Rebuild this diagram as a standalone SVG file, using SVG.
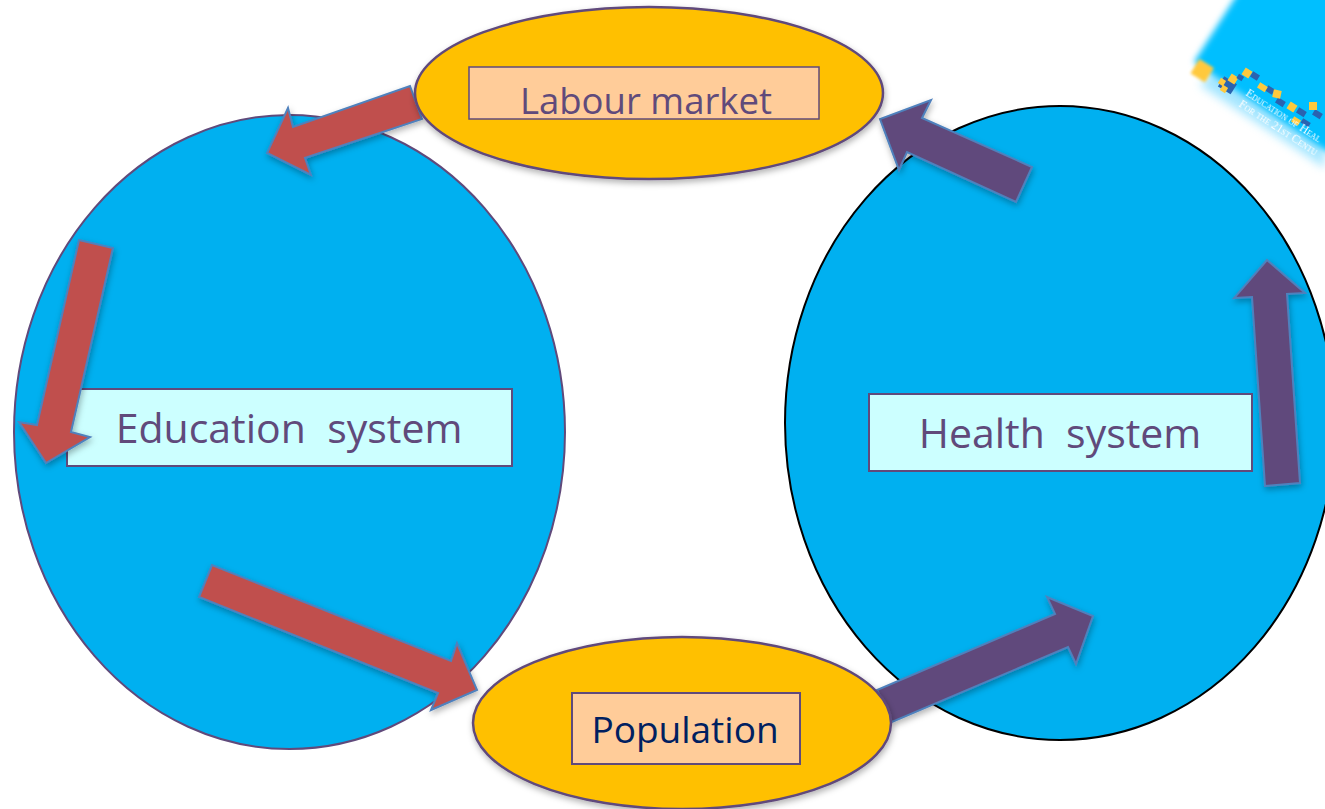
<svg xmlns="http://www.w3.org/2000/svg" width="1325" height="809" viewBox="0 0 1325 809">
<defs>
<filter id="sh" x="-20%" y="-20%" width="140%" height="140%"><feDropShadow dx="1" dy="3" stdDeviation="3" flood-color="#000" flood-opacity="0.3"/></filter>
<filter id="soft" x="-20%" y="-20%" width="140%" height="140%"><feGaussianBlur stdDeviation="3"/></filter>
<filter id="softer" x="-20%" y="-20%" width="140%" height="140%"><feGaussianBlur stdDeviation="5"/></filter>
<filter id="b1" x="-30%" y="-30%" width="160%" height="160%"><feGaussianBlur stdDeviation="0.6"/></filter>
<filter id="b2" x="-30%" y="-30%" width="160%" height="160%"><feGaussianBlur stdDeviation="1.5"/></filter>
</defs>
<style>
.sys{fill:#00b0f0;stroke:#604a7b;stroke-width:2}
.oval{fill:#ffc000;stroke:#604a7b;stroke-width:2.5;filter:url(#sh)}
.box{stroke:#604a7b;stroke-width:2}
.red{fill:#c0504d;stroke:#4f81bd;stroke-width:2;stroke-linejoin:miter;filter:url(#sh)}
.pur{fill:#604a7b;stroke:#4f81bd;stroke-width:2;stroke-linejoin:miter;filter:url(#sh)}
text{font-family:"Open Sans","Noto Sans","Liberation Sans",sans-serif;text-anchor:middle;white-space:pre}
.lbl{fill:#604a7b;font-size:41px}
.d1{fill:#ffc93c}.d2{fill:#2a63b0}
.tiny{font-family:"Liberation Serif",serif;font-size:11.500px;font-variant:small-caps;fill:#fff;text-anchor:start;filter:url(#b1)}
</style>
<g id="logo">
<polygon points="1200,85 1240,40 1325,40 1325,168" fill="#7fdcff" opacity="0.7" filter="url(#softer)"/>
<polygon points="1194,62 1240,-10 1340,-10 1340,160" fill="#00bfff" filter="url(#soft)"/>
<rect x="1194" y="62" width="17" height="17" class="d1" transform="rotate(32 1202 70)" filter="url(#b2)"/>
<g filter="url(#b1)">
<rect x="1220" y="79" width="15" height="12" class="d2" transform="rotate(32 1227 85)"/>
<rect x="1229" y="75" width="8" height="8" class="d1" transform="rotate(32 1233 79)"/>
<rect x="1219" y="79" width="6" height="6" class="d1" transform="rotate(32 1222 82)"/>
<rect x="1221" y="86" width="6" height="6" class="d1" transform="rotate(32 1224 89)"/>
<rect x="1237" y="75" width="6" height="5" class="d2" transform="rotate(32 1240 78)"/>
<rect x="1251" y="73" width="8" height="6" class="d2" transform="rotate(32 1255 76)"/>
<rect x="1243" y="69" width="8" height="8" class="d1" transform="rotate(32 1247 73)"/>
<rect x="1266" y="87" width="8" height="6" class="d2" transform="rotate(32 1270 90)"/>
<rect x="1258" y="84" width="9" height="6" class="d1" transform="rotate(32 1262 87)"/>
<rect x="1276" y="99" width="9" height="6" class="d2" transform="rotate(32 1280 102)"/>
<rect x="1273" y="90" width="8" height="8" class="d1" transform="rotate(12 1277 94)"/>
<rect x="1297" y="109" width="9" height="6" class="d2" transform="rotate(32 1301 112)"/>
<rect x="1288" y="103" width="8" height="8" class="d1" transform="rotate(32 1292 107)"/>
<rect x="1313" y="111" width="9" height="6" class="d2" transform="rotate(32 1317 114)"/>
<rect x="1309" y="102" width="8" height="8" class="d1"/>
<rect x="1301" y="120" width="9" height="5" class="d2" transform="rotate(32 1305 123)"/>
<rect x="1292" y="118" width="8" height="6" class="d1" transform="rotate(32 1296 121)"/>
</g>
<text class="tiny" transform="translate(1245 95) rotate(33)">Education of Heal</text>
<text class="tiny" transform="translate(1238 106) rotate(33)">For the 21st Centu</text>
</g>
<g id="education-system">
<ellipse class="sys" cx="289.500" cy="432" rx="275.500" ry="317"/>
<rect class="box" x="67" y="389" width="445" height="77" fill="#ccffff"/>
<text class="lbl" x="289" y="443">Education  system</text>
</g>
<g id="health-system">
<ellipse cx="1060" cy="423" rx="275" ry="317" fill="#00b0f0" stroke="#000" stroke-width="2"/>
<rect class="box" x="869" y="394" width="383" height="77" fill="#ccffff"/>
<text class="lbl" x="1060" y="448">Health  system</text>
</g>
<g id="connectors">
<polygon class="red" points="410,86 422,119 305,158 311,175 267,153 288,108 293,127"/>
<polygon class="red" points="79,240 113,248 71,432 90,437 46,463 19,422 37,425"/>
<polygon class="red" points="212,565 199,597 438,693 431,710 477,690 457,643 451,661"/>
<polygon class="pur" points="1032,167 1016,202 907,152 899,170 880,119 931,100 922,118"/>
<polygon class="pur" points="1265,486 1300,483 1287,294 1305,293 1267,260 1234,298 1252,297"/>
<polygon class="pur" points="877,690 892,722 1068,647 1076,664 1093,616 1047,597 1055,614"/>
</g>
<g id="labour-market">
<ellipse class="oval" cx="649" cy="93" rx="234" ry="86"/>
<rect x="469" y="67" width="350" height="52" fill="#ffcc99" stroke="#604a7b" stroke-width="1.500"/>
<text x="646" y="114" font-size="36.500" fill="#604a7b">Labour market</text>
</g>
<g id="population">
<ellipse class="oval" cx="682" cy="723" rx="209" ry="86"/>
<rect class="box" x="572" y="693" width="228" height="71" fill="#ffcc99"/>
<text x="685" y="743" font-size="37" fill="#002060">Population</text>
</g>
</svg>
